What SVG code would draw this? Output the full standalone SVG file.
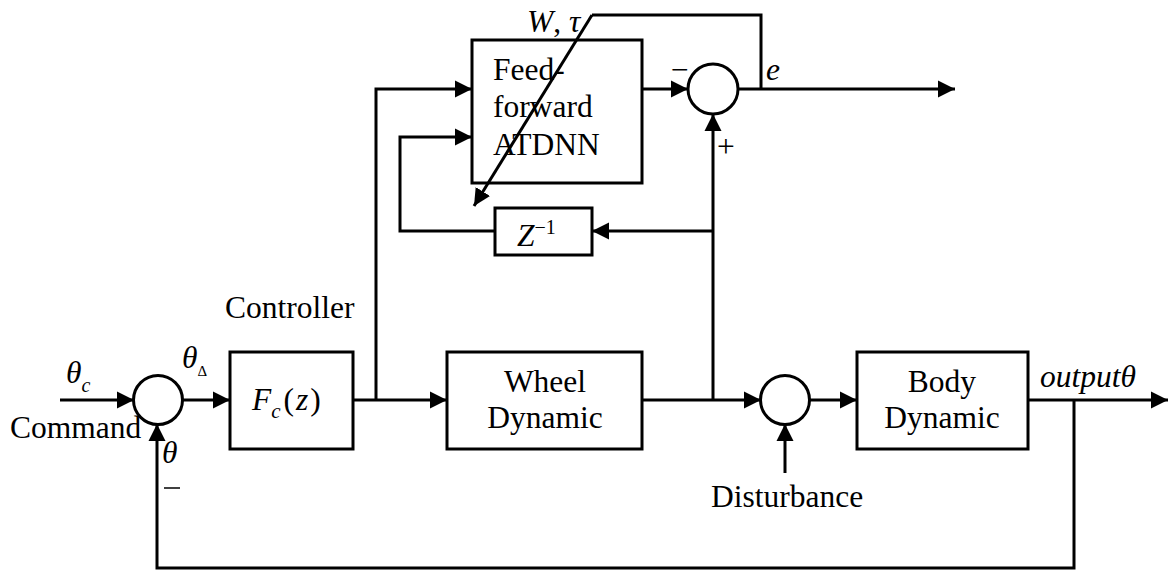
<svg xmlns="http://www.w3.org/2000/svg" width="1172" height="571" viewBox="0 0 1172 571">
<defs>
<marker id="ah" markerUnits="userSpaceOnUse" markerWidth="18" markerHeight="18" viewBox="0 0 18 18" refX="17" refY="9" orient="auto">
<path d="M0,0.5 L17,9 L0,17.5 Z" fill="#000"/>
</marker>
<style>
.box{fill:#fff;stroke:#000;stroke-width:3}
.sum{fill:#fff;stroke:#000;stroke-width:3}
.ln{fill:none;stroke:#000;stroke-width:3}
.ar{fill:none;stroke:#000;stroke-width:3;marker-end:url(#ah)}
.t{font-family:"Liberation Serif","Times New Roman",serif;font-size:31.5px;fill:#000}
.i{font-style:italic}
</style>
</defs>
<rect width="1172" height="571" fill="#fff"/>
<g id="connectors">
<line class="ar" x1="60" y1="400" x2="134" y2="400"/>
<line class="ar" x1="183" y1="400" x2="230" y2="400"/>
<line class="ar" x1="353" y1="400" x2="447" y2="400"/>
<polyline class="ar" points="376,400 376,89 472,89"/>
<polyline class="ar" points="495,231 400,231 400,137 472,137"/>
<line class="ar" x1="642" y1="89" x2="688" y2="89"/>
<line class="ar" x1="642" y1="400" x2="761" y2="400"/>
<line class="ar" x1="713" y1="400" x2="713" y2="114"/>
<line class="ar" x1="713" y1="231" x2="592" y2="231"/>
<line class="ar" x1="738" y1="89" x2="955" y2="89"/>
<polyline class="ln" points="761,89 761,15 592,15"/>
<line class="ar" x1="809" y1="400" x2="857" y2="400"/>
<line class="ar" x1="785" y1="473" x2="785" y2="424"/>
<line class="ar" x1="1028" y1="400" x2="1168" y2="400"/>
<polyline class="ar" points="1074,400 1074,568 157,568 157,424"/>
</g>
<g id="sum1"><circle class="sum" cx="158" cy="400" r="24.5"/></g>
<g id="controller">
<rect class="box" x="230" y="352" width="123" height="97"/>
<text class="t" x="252" y="410"><tspan class="i">F</tspan><tspan class="i" font-size="21" dy="8">c</tspan><tspan dy="-8" dx="3">(</tspan><tspan class="i" dx="2">z</tspan><tspan dx="2">)</tspan></text>
</g>
<g id="wheel">
<rect class="box" x="447" y="352" width="195" height="97"/>
<text class="t" x="545" y="392" text-anchor="middle">Wheel</text>
<text class="t" x="545" y="428" text-anchor="middle">Dynamic</text>
</g>
<g id="sum3"><circle class="sum" cx="785" cy="400" r="24.5"/></g>
<g id="body">
<rect class="box" x="857" y="352" width="171" height="97"/>
<text class="t" x="942" y="392" text-anchor="middle">Body</text>
<text class="t" x="942" y="428" text-anchor="middle">Dynamic</text>
</g>
<g id="atdnn">
<rect class="box" x="472" y="40" width="170" height="143"/>
<text class="t" x="493" y="80">Feed-</text>
<text class="t" x="493" y="117">forward</text>
<text class="t" x="493" y="155">ATDNN</text>
</g>
<g id="sum2"><circle class="sum" cx="713" cy="89" r="25"/></g>
<g id="delay">
<rect class="box" x="495" y="208" width="97" height="47"/>
<text class="t" x="517" y="246"><tspan class="i">Z</tspan><tspan font-size="20" dy="-12">−1</tspan></text>
</g>
<g id="weights">
<line class="ar" x1="592" y1="15" x2="474" y2="206"/>
</g>
<g id="labels">
<text class="t i" x="527" y="32">W<tspan font-style="normal">,</tspan> τ</text>
<text class="t i" x="766" y="80">e</text>
<text class="t" x="671" y="80">−</text>
<text class="t" x="717" y="157">+</text>
<text class="t" x="225" y="318">Controller</text>
<text class="t" x="10" y="438">Command</text>
<text class="t i" x="66" y="383">θ<tspan font-size="20" dy="9">c</tspan></text>
<text class="t i" x="182" y="368">θ<tspan font-style="normal" font-size="15" dy="8">Δ</tspan></text>
<text class="t i" x="162" y="463">θ</text>
<line x1="164" y1="488" x2="180" y2="488" stroke="#000" stroke-width="1.5"/>
<text class="t" x="711" y="507">Disturbance</text>
<text class="t i" x="1040" y="387">outputθ</text>
</g>
</svg>
